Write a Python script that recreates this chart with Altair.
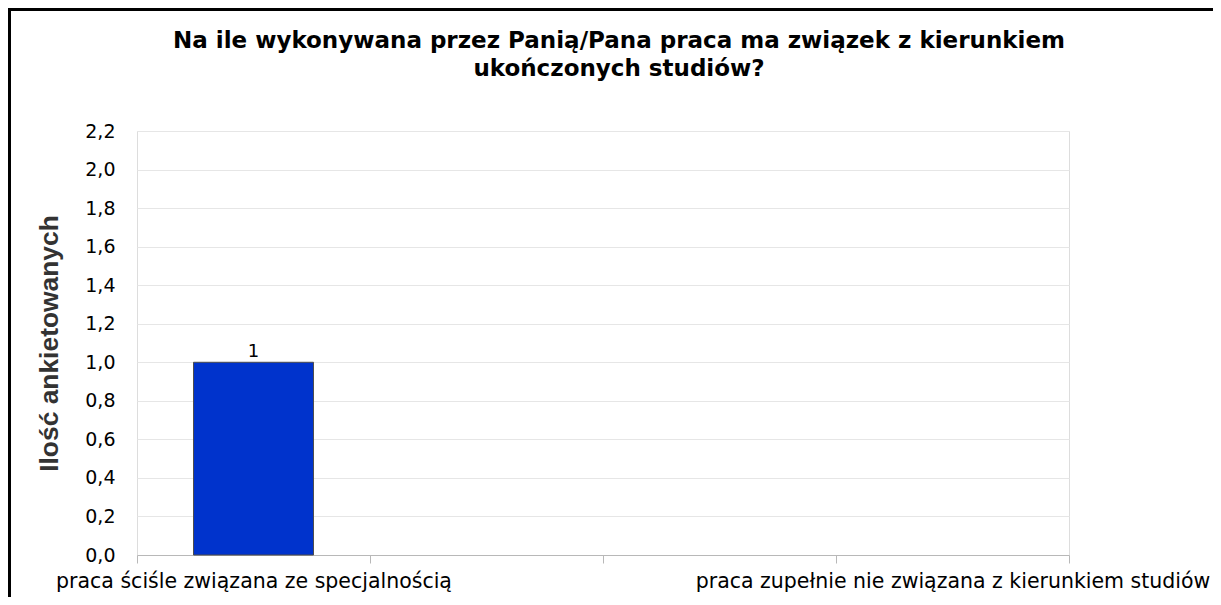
import altair as alt
import pandas as pd

title_lines = ["Na ile wykonywana przez Panią/Pana praca ma związek z kierunkiem",
               "ukończonych studiów?"]
y_title = "Ilość ankietowanych"
categories = [
    "praca ściśle związana ze specjalnością",
    "praca związana z kierunkiem studiów",
    "praca częściowo związana z kierunkiem studiów",
    "praca zupełnie nie związana z kierunkiem studiów",
]
counts = [1, 0, 0, 0]
y_ticks = [0.0, 0.2, 0.4, 0.6, 0.8, 1.0, 1.2, 1.4, 1.6, 1.8, 2.0, 2.2]

df = pd.DataFrame({"cat": categories, "n": counts})

x_enc = alt.X(
    "cat:N",
    sort=categories,
    scale=alt.Scale(domain=categories, paddingInner=0, paddingOuter=0),
    axis=alt.Axis(
        title=None,
        labelAngle=0,
        labelExpr="(datum.index == 0 || datum.index == 1) ? datum.label : ''",
        labelOverlap=False,
        labelBound=False,
        labelLimit=0,
        labelFont="DejaVu Sans",
        labelFontSize=20.5,
        labelColor="#000000",
        labelPadding=8,
        tickBand="extent",
        tickSize=8,
        tickColor="#b8b8b8",
        domainColor="#b8b8b8",
        grid=False,
    ),
)
y_enc = alt.Y(
    "n:Q",
    scale=alt.Scale(domain=[0, 2.2], nice=False, zero=True),
    axis=alt.Axis(
        title=y_title,
        values=y_ticks,
        labelExpr="replace(format(datum.value, '.1f'), '.', ',')",
        labelOverlap=False,
        labelBound=False,
        labelFont="DejaVu Sans",
        labelFontSize=19,
        labelColor="#000000",
        labelPadding=22,
        ticks=False,
        domain=False,
        gridColor="#e6e6e6",
        titleFont="Liberation Sans",
        titleFontSize=26.4,
        titleFontWeight="bold",
        titleColor="#333333",
        titleAngle=-90,
        titleBaseline="alphabetic",
        titleX=-80,
        titleY=212,
    ),
)

base = alt.Chart(df).transform_filter("datum.n > 0")

bars = base.mark_bar(color="#0033cc", stroke="#4d4d4d", strokeWidth=1,
                     width=alt.RelativeBandSize(0.515)).encode(x=x_enc, y=y_enc)
labels = base.mark_text(baseline="alphabetic", dy=-5, font="DejaVu Sans",
                        fontSize=18, color="#000000").encode(
    x=x_enc, y=y_enc, text="n:Q")

one = alt.Data(values=[{"a": 1}])
frame_top = alt.Chart(one).mark_rule(color="#000000", strokeWidth=3).encode(
    x=alt.value(-129), x2=alt.value(1100), y=alt.value(-121.5), y2=alt.value(-121.5))
frame_left = alt.Chart(one).mark_rule(color="#000000", strokeWidth=3).encode(
    x=alt.value(-127.5), x2=alt.value(-127.5), y=alt.value(-123), y2=alt.value(480))

chart = alt.layer(bars, labels, frame_top, frame_left).properties(
    width=932,
    height=424,
    title=alt.TitleParams(
        text=title_lines,
        font="DejaVu Sans",
        fontSize=23,
        fontWeight="bold",
        color="#000000",
        anchor="middle",
        baseline="bottom",
        lineHeight=28,
        offset=-97,
        dx=16,
    ),
    autosize=alt.AutoSizeParams(type="none"),
    padding={"left": 129, "top": 123, "right": 144, "bottom": 42},
).configure_view(stroke="#cccccc", strokeWidth=1).configure(background="#ffffff")

chart.save("out.html", embed_options={"renderer": "svg", "actions": False})
